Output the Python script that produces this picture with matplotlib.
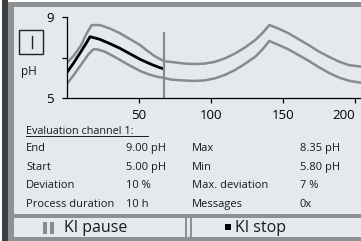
import matplotlib
matplotlib.use("Agg")
import matplotlib.pyplot as plt
from matplotlib.patches import Rectangle

plt.rcParams['font.family'] = ['Open Sans', 'DejaVu Sans']

# curve data (time, pH)
upper_x = [0, 5, 10, 14, 17.4, 23, 30, 37, 44, 51, 56, 60, 64, 67.8, 75, 82, 89, 96, 103,
           110, 117, 124, 131, 136, 140.7, 147, 154, 161, 168, 175, 182, 189, 196, 204.4]
upper_y = [6.72, 7.1, 7.6, 8.2, 8.59, 8.59, 8.42, 8.19, 7.9, 7.61, 7.33, 7.12, 6.95, 6.82, 6.76,
           6.7, 6.68, 6.7, 6.79, 6.96, 7.2, 7.5, 7.86, 8.2, 8.59, 8.42, 8.19, 7.9, 7.61, 7.3,
           7.04, 6.8, 6.63, 6.55]
lower_x = [0, 5, 10, 15, 18.5, 21, 26, 31, 37, 44, 51, 56, 60, 64, 67.8, 72, 80, 89, 96, 103,
           110, 117, 124, 131, 136, 140.7, 147, 154, 161, 168, 175, 182, 189, 196, 204.4]
lower_y = [5.7, 6.15, 6.65, 7.15, 7.4, 7.4, 7.3, 7.12, 6.88, 6.6, 6.34, 6.2, 6.11, 6.04, 6.0,
           5.92, 5.88, 5.85, 5.88, 5.98, 6.15, 6.39, 6.7, 7.04, 7.4, 7.81, 7.62, 7.4, 7.12,
           6.84, 6.53, 6.25, 6.02, 5.86, 5.76]
meas_x = [0, 5, 10, 14, 16.2, 19, 23, 30, 37, 44, 51, 56, 60, 64, 67.1]
meas_y = [6.25, 6.75, 7.3, 7.75, 8.02, 7.97, 7.89, 7.68, 7.45, 7.18, 6.91, 6.75, 6.63, 6.52, 6.45]
cursor_x = 67.8
cursor_top = 8.19

x_ticks = [50, 100, 150, 200]
y_ticks = [5, 7, 9]
y_tick_labels = ['5', '', '9']

rows_left = [("End", "9.00 pH"), ("Start", "5.00 pH"), ("Deviation", "10 %"),
             ("Process duration", "10 h")]
rows_right = [("Max", "8.35 pH"), ("Min", "5.80 pH"), ("Max. deviation", "7 %"),
              ("Messages", "0x")]

W, H = 361, 241
fig = plt.figure(figsize=(W / 100, H / 100), dpi=100)
fig.patch.set_facecolor('white')

# background drawn in pixel coords
bg = fig.add_axes([0, 0, 1, 1])
bg.set_xlim(0, W)
bg.set_ylim(H, 0)
bg.axis('off')

panel = '#e4e9ed'
band = '#8c9196'
bg.add_patch(Rectangle((13.5, 7), W, H, color=panel, lw=0))
bg.add_patch(Rectangle((2, 0), 6, H, color='#3e3e3e', lw=0))
bg.add_patch(Rectangle((8, 2), 5.5, H, color=band, lw=0))
bg.add_patch(Rectangle((8, 2), W, 5, color=band, lw=0))
bg.add_patch(Rectangle((13.5, 214.3), W, 3.2, color=band, lw=0))
bg.add_patch(Rectangle((13.5, 236.5), W, 5, color=band, lw=0))
bg.add_patch(Rectangle((185, 217), 1.7, 20, color=band, lw=0))
bg.add_patch(Rectangle((190, 217), 1.7, 20, color=band, lw=0))

# channel box and unit
bg.add_patch(Rectangle((19, 30), 24.3, 24, fill=False, ec='#222222', lw=1.0))
bg.plot([31.5, 31.5], [35.5, 48], color='#222222', lw=1.0)
bg.text(29, 71, "pH", fontsize=8.5, ha='center', va='center', color='#1a1a1a')

# evaluation table
txt = '#1a1a1a'
bg.text(26, 132, "Evaluation channel 1:", fontsize=7.8, va='center', color=txt)
bg.plot([26, 148], [136.3, 136.3], color=txt, lw=0.7)
row_y = [148.5, 167.3, 186, 204.7]
for (lab, val), (lab2, val2), y in zip(rows_left, rows_right, row_y):
    bg.text(26, y, lab, fontsize=8, va='center', color=txt)
    bg.text(126.5, y, val, fontsize=8, va='center', color=txt)
    bg.text(191.5, y, lab2, fontsize=8, va='center', color=txt)
    bg.text(300, y, val2, fontsize=8, va='center', color=txt)

# buttons
bg.add_patch(Rectangle((42.7, 221.7), 4.2, 12.5, color='#8a8a8a', lw=0))
bg.add_patch(Rectangle((50, 221.7), 4.2, 12.5, color='#8a8a8a', lw=0))
bg.text(64.5, 227.5, "KI pause", fontsize=11.5, va='center', color=txt)
bg.add_patch(Rectangle((225, 224.3), 6, 6, color='black', lw=0))
bg.text(235, 227.5, "KI stop", fontsize=11.5, va='center', color=txt)

# chart
x0, yb, yt = 66.7, 98.3, 16.7
ax = fig.add_axes([x0 / W, (H - yb) / H, (W - x0) / W, (yb - yt) / H])
ax.patch.set_alpha(0)
ax.set_xlim(0, 204.4)
ax.set_ylim(5, 9)
gray = '#8a8a8a'
ax.plot(upper_x, upper_y, color=gray, lw=1.8, solid_capstyle='butt')
ax.plot(lower_x, lower_y, color=gray, lw=1.8, solid_capstyle='butt')
ax.plot(meas_x, meas_y, color='black', lw=2.0, solid_capstyle='butt')
ax.plot([cursor_x, cursor_x], [5, cursor_top], color=gray, lw=1.6)

for s in ['top', 'right']:
    ax.spines[s].set_visible(False)
for s in ['left', 'bottom']:
    ax.spines[s].set_linewidth(0.9)
ax.set_xticks(x_ticks)
ax.set_yticks(y_ticks)
ax.set_yticklabels(y_tick_labels)
ax.tick_params(axis='both', length=3.5, width=0.9, labelsize=9.5, colors='black')
ax.tick_params(axis='y', pad=6)
ax.tick_params(axis='x', pad=4)
ax.get_xticklabels()[-1].set_horizontalalignment('right')

fig.savefig("out.png", dpi=100)
